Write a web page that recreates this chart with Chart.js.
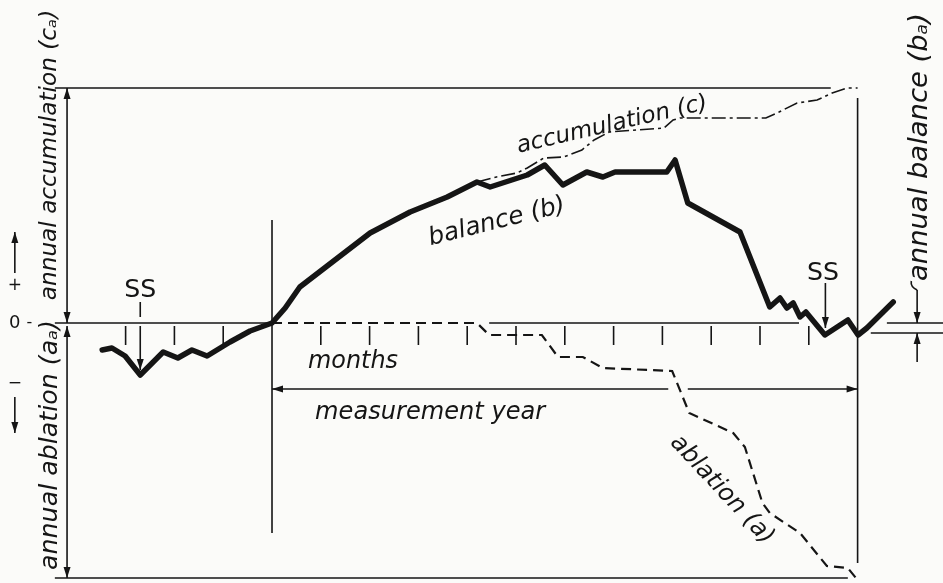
<!DOCTYPE html>
<html>
<head>
<meta charset="utf-8">
<title>Glacier mass balance schematic</title>
<script src="https://cdn.jsdelivr.net/npm/chart.js@4.4.1/dist/chart.umd.min.js"></script>
<style>
  html, body { margin: 0; padding: 0; background: #fbfbf9; }
  #wrap { width: 943px; height: 583px; }
</style>
</head>
<body>
<div id="wrap"><canvas id="balanceChart" width="943" height="583"></canvas></div>
<script>
// months counted from the start of the measurement year, values in arbitrary units
const balanceMonths = [-3.48, -3.28, -3.01, -2.70, -2.23, -1.93, -1.64, -1.33, -0.86, -0.45,
  0, 0.27, 0.57, 1.13, 2.01, 2.83, 3.59, 4.20, 4.47, 5.23,
  5.59, 5.96, 6.45, 6.78, 7.03, 8.09, 8.26, 8.52, 9.59, 10.20,
  10.41, 10.55, 10.68, 10.82, 10.94, 11.33, 11.80, 12.01, 12.19, 12.73];
const balanceValues = [-27, -25, -33, -52, -29, -35, -27, -33, -19, -8,
  0, 15, 36, 57, 90, 111, 126, 141, 136, 148,
  158, 138, 151, 146, 151, 151, 163, 120, 91, 16,
  25, 15, 20, 6, 11, -12, 3, -12, -5, 21];

const accumulationMonths = [4.20, 4.60, 5.02, 5.23, 5.57, 5.98, 6.35, 6.60, 6.91, 8.03,
  8.22, 8.36, 10.12, 10.39, 10.76, 11.17, 11.48, 11.78, 12.0];
const accumulationValues = [141, 146, 150, 155, 165, 166, 173, 183, 191, 195,
  203, 205, 205, 211, 220, 223, 230, 235, 235];

const ablationMonths = [0, 4.20, 4.45, 5.53, 5.86, 6.37, 6.78, 8.20, 8.55, 9.45,
  9.69, 10.05, 10.20, 10.82, 11.37, 11.80, 12.0];
const ablationValues = [0, 0, -12, -12, -34, -34, -45, -48, -90, -110,
  -124, -180, -190, -210, -243, -245, -257];

const monthTicks = [-3, -2, -1, 1, 2, 3, 4, 5, 6, 7, 8, 9, 10, 11];
const yearStart = 0, yearEnd = 12;
const annualAccumulation = 235;
const annualAblation = -255;
const annualBalance = -10;
const ssMonths = [-2.70, 11.34];

const ink = '#151515';
const FONT = '"DejaVu Sans"';

function toPoints(xs, ys) {
  return xs.map((m, i) => ({ x: m, y: ys[i] }));
}

function seg(ctx, x1, y1, x2, y2) {
  ctx.beginPath();
  ctx.moveTo(x1, y1);
  ctx.lineTo(x2, y2);
  ctx.stroke();
}

// line with a narrow filled head at (x2, y2)
function arrow(ctx, x1, y1, x2, y2) {
  seg(ctx, x1, y1, x2, y2);
  const a = Math.atan2(y2 - y1, x2 - x1);
  const len = 11, half = 3.5;
  ctx.beginPath();
  ctx.moveTo(x2, y2);
  ctx.lineTo(x2 - len * Math.cos(a) + half * Math.sin(a), y2 - len * Math.sin(a) - half * Math.cos(a));
  ctx.lineTo(x2 - len * Math.cos(a) - half * Math.sin(a), y2 - len * Math.sin(a) + half * Math.cos(a));
  ctx.closePath();
  ctx.fill();
}

// draws text centred at (cx, cy), rotated; sized to span `width` px,
// or at a fixed font size when width is given as a negative number
function label(ctx, text, cx, cy, angleDeg, width, style) {
  ctx.save();
  let size;
  if (width < 0) {
    size = -width;
  } else {
    ctx.font = style + ' 20px ' + FONT;
    size = 20 * width / ctx.measureText(text).width;
  }
  ctx.font = style + ' ' + size.toFixed(1) + 'px ' + FONT;
  ctx.translate(cx, cy);
  ctx.rotate(angleDeg * Math.PI / 180);
  ctx.textAlign = 'center';
  ctx.textBaseline = 'middle';
  ctx.fillText(text, 0, 0);
  ctx.restore();
}

const frame = {
  id: 'frame',
  beforeDatasetsDraw(chart) {
    const { ctx, scales: { x, y } } = chart;
    const X = m => x.getPixelForValue(m);
    const Y = v => y.getPixelForValue(v);
    ctx.save();
    ctx.strokeStyle = ink;
    ctx.fillStyle = ink;
    ctx.lineWidth = 1.6;

    // annual accumulation / ablation levels
    seg(ctx, X(-4.45), Y(annualAccumulation), X(11.45), Y(annualAccumulation));
    seg(ctx, X(-4.45), Y(annualAblation), X(11.8), Y(annualAblation));

    // left double arrows
    arrow(ctx, X(-4.2), Y(120), X(-4.2), Y(annualAccumulation));
    arrow(ctx, X(-4.2), Y(120), X(-4.2), Y(0));
    arrow(ctx, X(-4.2), Y(-120), X(-4.2), Y(-3));
    arrow(ctx, X(-4.2), Y(-120), X(-4.2), Y(annualAblation));

    // zero line
    seg(ctx, X(-4.45), Y(0), X(yearStart), Y(0));
    seg(ctx, X(4.45), Y(0), X(10.8), Y(0));
    seg(ctx, X(12.6), Y(0), X(13.75), Y(0));
    seg(ctx, X(12.27), Y(annualBalance), X(13.75), Y(annualBalance));

    // month ticks
    monthTicks.forEach(m => seg(ctx, X(m), Y(-3), X(m), Y(-22)));

    // measurement year bounds and arrow
    seg(ctx, X(yearStart), Y(103), X(yearStart), Y(-210));
    seg(ctx, X(yearEnd), Y(225), X(yearEnd), Y(-240));
    arrow(ctx, X(8.12), Y(-66), X(yearStart), Y(-66));
    arrow(ctx, X(8.52), Y(-66), X(yearEnd), Y(-66));

    // SS markers
    seg(ctx, X(ssMonths[0]), Y(21), X(ssMonths[0]), Y(6));
    arrow(ctx, X(ssMonths[0]), Y(-3), X(ssMonths[0]), Y(-47));
    arrow(ctx, X(ssMonths[1]), Y(40), X(ssMonths[1]), Y(-5));

    // annual balance bracket
    arrow(ctx, X(13.22), Y(33), X(13.22), Y(0));
    arrow(ctx, X(13.22), Y(-39), X(13.22), Y(annualBalance));
    ctx.beginPath();
    ctx.moveTo(X(13.22), Y(33));
    ctx.quadraticCurveTo(X(13.08), Y(36), X(13.1), Y(42));
    ctx.stroke();

    // +/- direction arrows
    arrow(ctx, X(-5.27), Y(50), X(-5.27), Y(91));
    arrow(ctx, X(-5.27), Y(-74), X(-5.27), Y(-110));
    ctx.restore();
  },
  afterDatasetsDraw(chart) {
    const { ctx, scales: { x, y } } = chart;
    const X = m => x.getPixelForValue(m);
    const Y = v => y.getPixelForValue(v);
    ctx.save();
    ctx.fillStyle = ink;
    label(ctx, 'accumulation (c)', X(6.97), Y(198), -13, 195, 'italic');
    label(ctx, 'balance (b)', X(4.61), Y(101), -14, 140, 'italic');
    label(ctx, 'ablation (a)', X(9.22), Y(-167), 47, 140, 'italic');
    label(ctx, 'months', X(1.66), Y(-39), 0, 90, 'italic');
    label(ctx, 'measurement year', X(3.24), Y(-90), 0, 230, 'italic');
    label(ctx, 'SS', X(ssMonths[0]), Y(33), 0, 32, 'normal');
    label(ctx, 'SS', X(ssMonths[1] - 0.05), Y(50), 0, 32, 'normal');
    label(ctx, 'annual accumulation (cₐ)', X(-4.55), Y(168), -90, 290, 'italic');
    label(ctx, 'annual ablation (aₐ)', X(-4.55), Y(-122), -90, 250, 'italic');
    label(ctx, 'annual balance (bₐ)', X(13.27), Y(176), -90, 268, 'italic');
    label(ctx, '0', X(-5.27), Y(0), 0, -18, 'normal');
    label(ctx, '-', X(-4.97), Y(0), 0, -16, 'normal');
    label(ctx, '+', X(-5.27), Y(37), 0, -17, 'normal');
    label(ctx, '−', X(-5.27), Y(-61), 0, -17, 'normal');
    ctx.restore();
  }
};

const data = {
  datasets: [{
      label: 'ablation (a)',
      data: toPoints(ablationMonths, ablationValues),
      borderColor: ink,
      borderWidth: 2.2,
      borderDash: [10, 6],
      pointRadius: 0,
      tension: 0
  }, {
      label: 'accumulation (c)',
      data: toPoints(accumulationMonths, accumulationValues),
      borderColor: ink,
      borderWidth: 1.6,
      borderDash: [14, 4, 3, 4],
      pointRadius: 0,
      tension: 0
  }, {
      label: 'balance (b)',
      data: toPoints(balanceMonths, balanceValues),
      borderColor: ink,
      borderWidth: 5.5,
      borderJoinStyle: 'round',
      borderCapStyle: 'round',
      pointRadius: 0,
      tension: 0
  }]
};

const config = {
  type: 'line',
  data: data,
  options: {
      responsive: false,
      animation: false,
      layout: { padding: 0 },
      plugins: {
        legend: { display: false },
        tooltip: { enabled: false }
      },
      scales: {
        x: { type: 'linear', min: -5.574, max: 13.75, display: false },
        y: { type: 'linear', min: -260, max: 323, display: false }
      }
  },
  plugins: [frame]
};

const ctx = document.getElementById('balanceChart').getContext('2d');
const balanceChart = new Chart(ctx, config);
</script>
</body>
</html>
